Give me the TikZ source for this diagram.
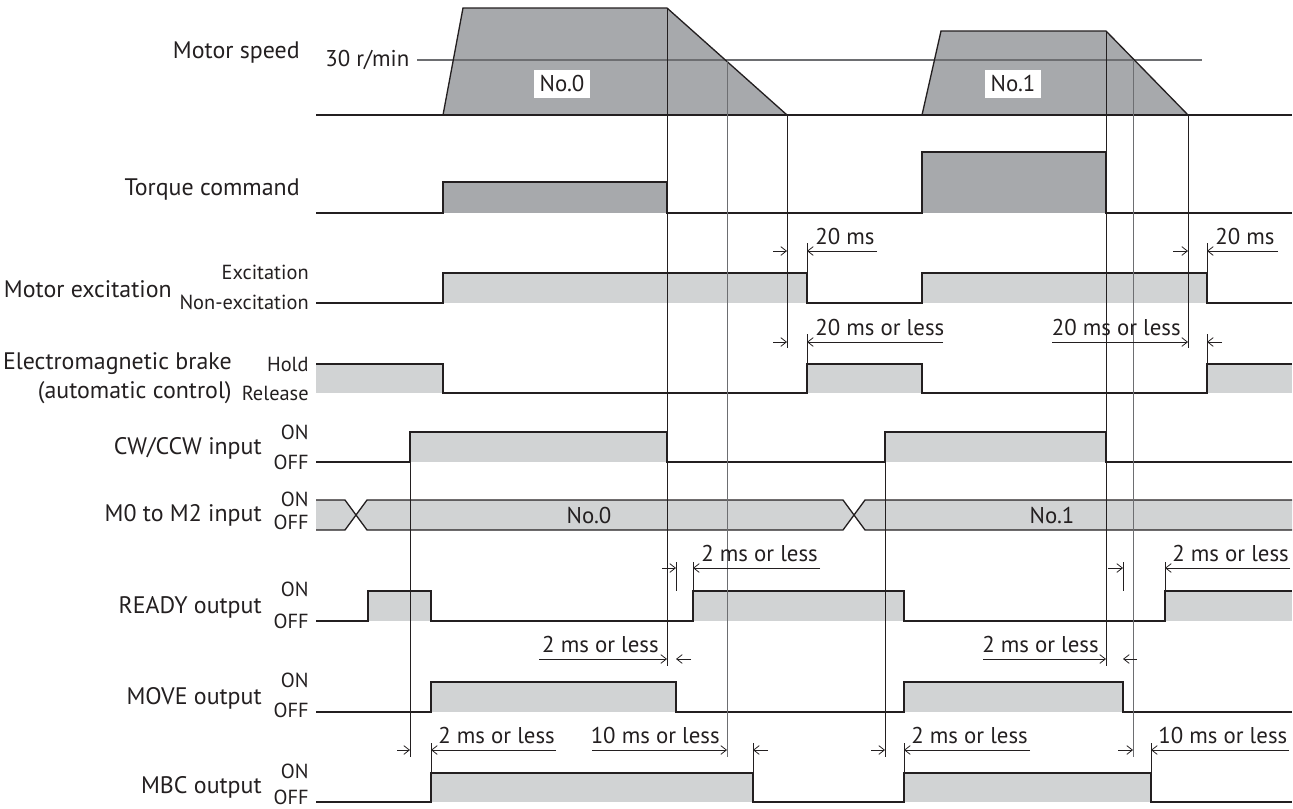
\documentclass[tikz,border=0pt]{standalone}
\usepackage{fontspec}
\setmainfont{PT Sans}
\usetikzlibrary{arrows.meta}

\definecolor{ink}{HTML}{231F20}
\definecolor{darkfill}{HTML}{A7A9AC}
\definecolor{lightfill}{HTML}{D1D3D4}
\definecolor{refline}{HTML}{6D6E71}

\tikzset{
  sig/.style={draw=ink, line width=0.75pt, line join=miter},
  guide/.style={draw=ink, line width=0.45pt},
  refguide/.style={draw=refline, line width=0.5pt},
  dimline/.style={draw=ink, line width=0.45pt, -{Straight Barb[length=3.2pt,width=5pt]}},
  rowname/.style={font=\fontsize{13.6}{15}\selectfont, text=ink, inner sep=0pt},
  level/.style={font=\fontsize{11.6}{13}\selectfont, text=ink, inner sep=0pt},
  timing/.style={font=\fontsize{13}{15}\selectfont, text=ink, inner sep=0pt},
}

\begin{document}
\begin{tikzpicture}[x=0.02cm, y=-0.02cm]
    \useasboundingbox (0,0) rectangle (1293,808);

    % Row labels
    \node[rowname, anchor=east] (lSpeed)  at (300,53)  {Motor speed};
    \node[rowname, anchor=east] (lTorque) at (300,190) {Torque command};
    \node[rowname, anchor=east] (lExc)    at (172,289) {Motor excitation};
    \node[rowname, anchor=east] (lBrake1) at (232,364) {Electromagnetic brake};
    \node[rowname, anchor=east] (lBrake2) at (232,393) {(automatic control)};
    \node[rowname, anchor=east] (lCW)     at (262,448) {CW/CCW input};
    \node[rowname, anchor=east] (lM)      at (262,515) {M0 to M2 input};
    \node[rowname, anchor=east] (lReady)  at (262,607) {READY output};
    \node[rowname, anchor=east] (lMove)   at (262,698) {MOVE output};
    \node[rowname, anchor=east] (lMbc)    at (262,787) {MBC output};

    % Level labels
    \node[level, anchor=east] (vExcH)  at (309,272) {Excitation};
    \node[level, anchor=east] (vExcL)  at (309,302) {Non-excitation};
    \node[level, anchor=east] (vHold)  at (309,364) {Hold};
    \node[level, anchor=east] (vRel)   at (309,393) {Release};
    \node[level, anchor=east] (vCWH)   at (309,432) {ON};
    \node[level, anchor=east] (vCWL)   at (309,462) {OFF};
    \node[level, anchor=east] (vMH)    at (309,499) {ON};
    \node[level, anchor=east] (vML)    at (309,522) {OFF};
    \node[level, anchor=east] (vRdyH)  at (309,589) {ON};
    \node[level, anchor=east] (vRdyL)  at (309,621) {OFF};
    \node[level, anchor=east] (vMovH)  at (309,680) {ON};
    \node[level, anchor=east] (vMovL)  at (309,710) {OFF};
    \node[level, anchor=east] (vMbcH)  at (309,771) {ON};
    \node[level, anchor=east] (vMbcL)  at (309,797) {OFF};

    % 1. Motor speed
    \fill[darkfill] (443,115) -- (463,8) -- (667,8) -- (787,115) -- cycle;
    \fill[darkfill] (922,115) -- (941,31) -- (1106,31) -- (1188,115) -- cycle;
    \draw[refguide, line width=0.8pt] (417,60) -- (1202,60);
    \node[timing, anchor=west] (rpm) at (325,60) {30 r/min};
    \draw[sig] (443,115) -- (463,8) -- (667,8) -- (787,115);
    \draw[sig] (922,115) -- (941,31) -- (1106,31) -- (1188,115);
    \draw[sig] (316,115) -- (1292,115);
    \node[timing, fill=white, inner sep=3pt] (no0) at (562,84) {No.0};
    \node[timing, fill=white, inner sep=3pt] (no1) at (1013,84) {No.1};

    % 2. Torque command
    \fill[darkfill] (443,213) rectangle (667,182);
    \fill[darkfill] (922,213) rectangle (1106,152);
    \draw[sig] (316,213) -- (443,213) -- (443,182) -- (667,182) -- (667,213)
      -- (922,213) -- (922,152) -- (1106,152) -- (1106,213) -- (1292,213);

    % 3. Motor excitation
    \fill[lightfill] (443,303) rectangle (807,273);
    \fill[lightfill] (922,303) rectangle (1207,273);
    \draw[sig] (316,303) -- (443,303) -- (443,273) -- (807,273) -- (807,303)
      -- (922,303) -- (922,273) -- (1207,273) -- (1207,303) -- (1292,303);

    % 4. Electromagnetic brake
    \fill[lightfill] (316,393) rectangle (443,364);
    \fill[lightfill] (807,393) rectangle (922,364);
    \fill[lightfill] (1207,393) rectangle (1292,364);
    \draw[sig] (316,364) -- (443,364) -- (443,393) -- (807,393) -- (807,364)
      -- (922,364) -- (922,393) -- (1207,393) -- (1207,364) -- (1292,364);

    % 5. CW/CCW input
    \fill[lightfill] (410,462) rectangle (667,432);
    \fill[lightfill] (885,462) rectangle (1106,432);
    \draw[sig] (316,462) -- (410,462) -- (410,432) -- (667,432) -- (667,462)
      -- (885,462) -- (885,432) -- (1106,432) -- (1106,462) -- (1292,462);

    % 6. M0 to M2 input
    \fill[lightfill] (316,500) -- (345,500) -- (356,515) -- (345,530) -- (316,530) -- cycle;
    \fill[lightfill] (356,515) -- (367,500) -- (843,500) -- (854,515) -- (843,530) -- (367,530) -- cycle;
    \fill[lightfill] (854,515) -- (865,500) -- (1292,500) -- (1292,530) -- (865,530) -- cycle;
    \draw[sig] (316,500) -- (345,500) -- (367,530) -- (843,530) -- (865,500) -- (1292,500);
    \draw[sig] (316,530) -- (345,530) -- (367,500) -- (843,500) -- (865,530) -- (1292,530);
    \node[timing] (busNo0) at (589,515) {No.0};
    \node[timing] (busNo1) at (1052,515) {No.1};

    % 7. READY output
    \fill[lightfill] (368,621) rectangle (431,591);
    \fill[lightfill] (693,621) rectangle (904,591);
    \fill[lightfill] (1165,621) rectangle (1292,591);
    \draw[sig] (316,621) -- (368,621) -- (368,591) -- (431,591) -- (431,621)
      -- (693,621) -- (693,591) -- (904,591) -- (904,621) -- (1165,621) -- (1165,591) -- (1292,591);

    % 8. MOVE output
    \fill[lightfill] (431,712) rectangle (676,682);
    \fill[lightfill] (904,712) rectangle (1123,682);
    \draw[sig] (316,712) -- (431,712) -- (431,682) -- (676,682) -- (676,712)
      -- (904,712) -- (904,682) -- (1123,682) -- (1123,712) -- (1292,712);

    % 9. MBC output
    \fill[lightfill] (431,802) rectangle (753,773);
    \fill[lightfill] (904,802) rectangle (1151,773);
    \draw[sig] (316,802) -- (431,802) -- (431,773) -- (753,773) -- (753,802)
      -- (904,802) -- (904,773) -- (1151,773) -- (1151,802) -- (1292,802);

    % Guide lines through the diagram
    \draw[guide] (667,8) -- (667,666);
    \draw[guide] (1106,31) -- (1106,666);
    \draw[refguide] (727,60) -- (727,757);
    \draw[refguide] (1133,60) -- (1133,757);
    \draw[guide] (787,115) -- (787,348);
    \draw[guide] (1188,115) -- (1188,348);
    \draw[guide] (410,432) -- (410,757);
    \draw[guide] (885,432) -- (885,757);
    \foreach \x in {807,1207} {
      \draw[guide] (\x,243) -- (\x,273);
      \draw[guide] (\x,334) -- (\x,364);
    }
    \foreach \x in {676,693,1123,1165}
      \draw[guide] (\x,562) -- (\x,591);
    \foreach \x in {431,753,904,1151}
      \draw[guide] (\x,743) -- (\x,773);

    % Timing: motor excitation
    \draw[dimline] (773,251) -- (787,251);
    \draw[dimline] (877,251) -- (807,251);
    \node[timing, anchor=base west] (tExc0) at (815,244) {20 ms};
    \draw[dimline] (1173,251) -- (1188,251);
    \draw[dimline] (1278,251) -- (1207,251);
    \node[timing, anchor=base west] (tExc1) at (1215,244) {20 ms};

    % Timing: brake
    \draw[dimline] (773,342) -- (787,342);
    \draw[dimline] (943,342) -- (807,342);
    \node[timing, anchor=base west] (tBrk0) at (815,335) {20 ms or less};
    \draw[dimline] (1052,342) -- (1188,342);
    \draw[dimline] (1222,342) -- (1207,342);
    \node[timing, anchor=base east] (tBrk1) at (1181,335) {20 ms or less};

    % Timing: READY
    \draw[dimline] (662,568) -- (676,568);
    \draw[dimline] (820,568) -- (693,568);
    \node[timing, anchor=base west] (tRdy0) at (701,561) {2 ms or less};
    \draw[dimline] (1108,568) -- (1123,568);
    \draw[dimline] (1290,568) -- (1165,568);
    \node[timing, anchor=base west] (tRdy1) at (1172,561) {2 ms or less};

    % Timing: MOVE
    \draw[dimline] (539,659) -- (667,659);
    \draw[dimline] (691,659) -- (676,659);
    \node[timing, anchor=base east] (tMov0) at (659,652) {2 ms or less};
    \draw[dimline] (983,659) -- (1106,659);
    \draw[dimline] (1137,659) -- (1123,659);
    \node[timing, anchor=base east] (tMov1) at (1099,652) {2 ms or less};

    % Timing: MBC
    \draw[dimline] (397,750) -- (410,750);
    \draw[dimline] (556,750) -- (431,750);
    \node[timing, anchor=base west] (tMbc0) at (438,743) {2 ms or less};
    \draw[dimline] (592,750) -- (727,750);
    \draw[dimline] (768,750) -- (753,750);
    \node[timing, anchor=base east] (tMbc1) at (720,743) {10 ms or less};
    \draw[dimline] (871,750) -- (885,750);
    \draw[dimline] (1030,750) -- (904,750);
    \node[timing, anchor=base west] (tMbc2) at (911,743) {2 ms or less};
    \draw[dimline] (1118,750) -- (1133,750);
    \draw[dimline] (1289,750) -- (1151,750);
    \node[timing, anchor=base west] (tMbc3) at (1158,743) {10 ms or less};

\end{tikzpicture}
\end{document}
